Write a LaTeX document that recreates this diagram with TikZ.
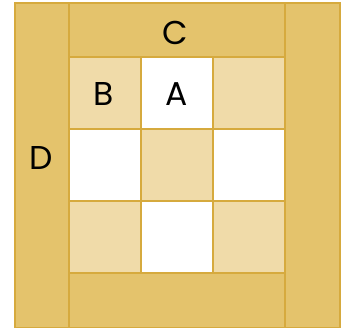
\documentclass[tikz,border=0pt]{standalone}
\usepackage{tikz}
\usetikzlibrary{positioning}
\usepackage{xcolor}
\usepackage{fontspec}
\setmainfont{Poppins}
\definecolor{quiltdark}{HTML}{E4C36C}
\definecolor{quiltlight}{HTML}{F0DBA9}
\definecolor{quiltline}{HTML}{D6AA3E}

\begin{document}
\begin{tikzpicture}[x=1pt, y=-1pt,
    patch/.style={draw=quiltline, line width=1.2pt},
    letter/.style={font=\fontsize{33}{33}\selectfont, inner sep=0pt}]
            \useasboundingbox (0,0) rectangle (342,327);
            % borders
            \draw[patch, fill=quiltdark] (15,3) rectangle (69,328);
            \draw[patch, fill=quiltdark] (285,3) rectangle (340,328);
            \draw[patch, fill=quiltdark] (69,3) rectangle (285,57);
            \draw[patch, fill=quiltdark] (69,273) rectangle (285,328);
            % nine patch
            \foreach \i in {0,1,2} {
                \foreach \j in {0,1,2} {
                    \pgfmathtruncatemacro{\k}{mod(\i+\j,2)}
                    \ifnum\k=0
                        \draw[patch, fill=quiltlight] (69+72*\i,57+72*\j) rectangle ++(72,72);
                    \else
                        \draw[patch, fill=white] (69+72*\i,57+72*\j) rectangle ++(72,72);
                    \fi
                }
            }
            \node[letter] (labelC) at (175,33) {C};
            \node[letter] (labelB) at (104,94) {B};
            \node[letter] (labelA) at (177,94) {A};
            \node[letter] (labelD) at (41,158) {D};
        \end{tikzpicture}
\end{document}
